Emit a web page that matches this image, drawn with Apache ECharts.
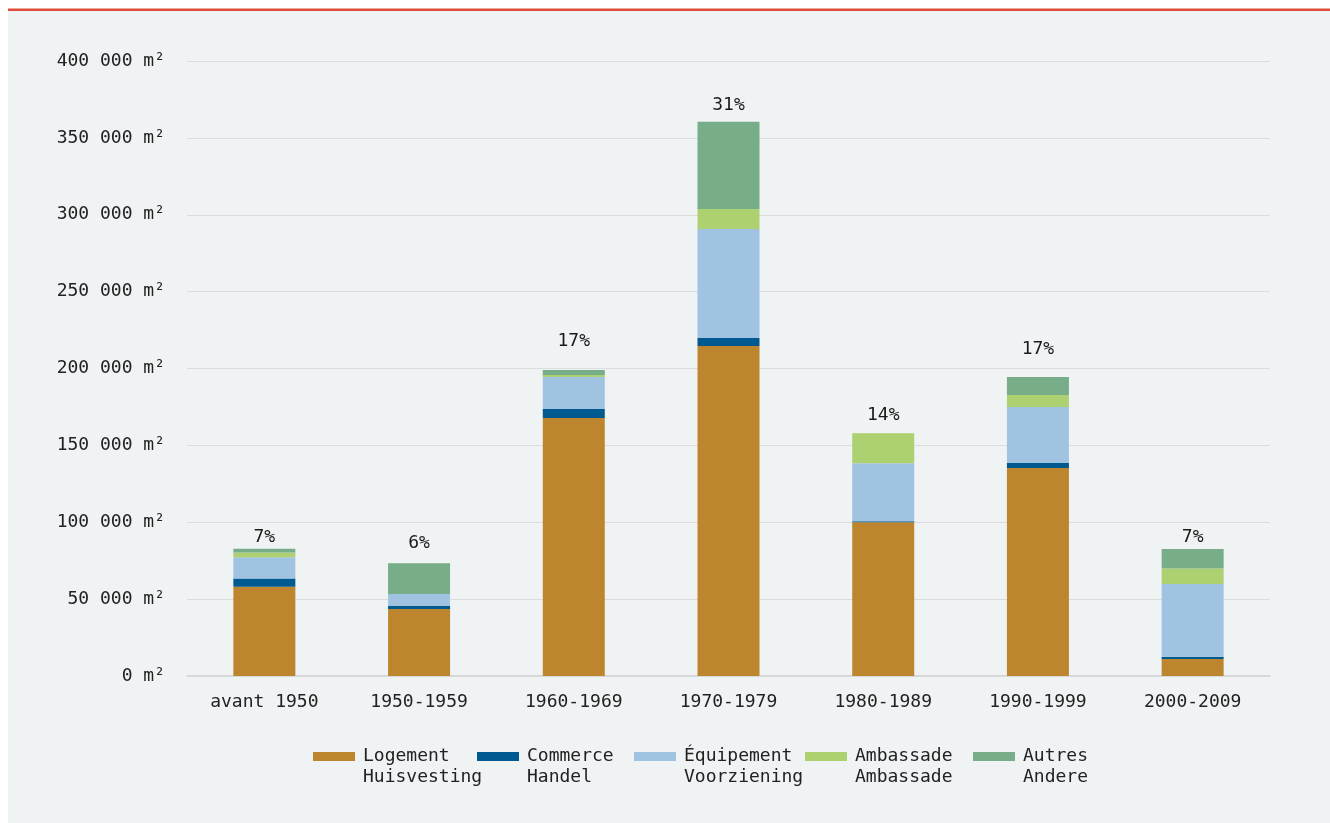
<!DOCTYPE html>
<html>
<head>
<meta charset="utf-8">
<script src="https://cdn.jsdelivr.net/npm/echarts@6/dist/echarts.min.js"></script>
<style>
html,body{margin:0;padding:0;background:#ffffff;}
#chart{width:1330px;height:823px;}
</style>
</head>
<body>
<div id="chart"></div>
<script>
var categories = ['avant 1950','1950-1959','1960-1969','1970-1979','1980-1989','1990-1999','2000-2009'];
var logement   = [58000, 43600, 167800, 214600, 100000, 135300, 11000];
var commerce   = [5400, 2000, 5900, 5200, 700, 3300, 1500];
var equipement = [13900, 7800, 20800, 70900, 37700, 36400, 47300];
var ambassade  = [3000, 0, 1300, 13000, 19500, 7800, 10200];
var autres     = [2400, 20000, 3300, 56800, 0, 11700, 12600];
var pctLabels  = ['7%','6%','17%','31%','14%','17%','7%'];
var seriesNames = ['Logement\nHuisvesting','Commerce\nHandel','Équipement\nVoorziening','Ambassade\nAmbassade','Autres\nAndere'];
var yTicks = [0, 50000, 100000, 150000, 200000, 250000, 300000, 350000, 400000];

// style: gap between bar top and its percentage label (px)
var labelGaps = [3, 11, 20, 7, 9, 19, 3];
var colors = ['#bd852d','#005a8f','#a0c3e2','#add170','#78ad89'];
var FONT = '"DejaVu Sans Mono", monospace';
var seriesData = [logement, commerce, equipement, ambassade, autres];
var totals = categories.map(function(c, i){
  return seriesData.reduce(function(s, arr){ return s + arr[i]; }, 0);
});

function fmt(v){
  return String(v).replace(/\B(?=(\d{3})+(?!\d))/g, ' ') + ' m²';
}

var chart = echarts.init(document.getElementById('chart'), null, {renderer:'canvas'});

var series = seriesNames.map(function(n, k){
  return {
    name: n, type: 'bar', stack: 'total', barWidth: 62,
    itemStyle: {color: colors[k]},
    data: seriesData[k]
  };
});
series.push({
  name: 'pct', type: 'scatter', symbolSize: 0,
  itemStyle: {color: '#222', opacity: 1},
  label: {
    show: true, position: 'top', opacity: 1,
    fontFamily: FONT, fontSize: 18, color: '#1a1a1a',
    formatter: function(p){ return pctLabels[p.dataIndex]; }
  },
  emphasis: {disabled: true},
  data: totals.map(function(t, i){ return {value: t, label: {distance: labelGaps[i]}}; }),
  z: 5
});

var legendLefts = [313, 477, 634, 805, 973];
var legends = seriesNames.map(function(n, k){
  return {
    data: [n], left: legendLefts[k], top: 725, padding: 0,
    itemWidth: 42, itemHeight: 9, icon: 'rect', selectedMode: false,
    formatter: function(name){ return ' \n' + name; },
    textStyle: {fontFamily: FONT, fontSize: 18, color: '#222', lineHeight: 21, padding: [0, 0, 0, 3]}
  };
});

chart.setOption({
  backgroundColor: 'transparent',
  animation: false,
  color: colors,
  graphic: [
    {type: 'rect', left: 8, top: 9, shape: {width: 1322, height: 814}, style: {fill: '#eff3f4'}, z: -10, silent: true},
    {type: 'rect', left: 8, top: 8.5, shape: {width: 1322, height: 2.5}, style: {fill: '#e04a3b'}, z: -9, silent: true}
  ],
  grid: {left: 187, right: 60, top: 61, bottom: 147},
  legend: legends,
  xAxis: {
    type: 'category', data: categories,
    axisLine: {lineStyle: {color: '#d8d8d8', width: 2}},
    axisTick: {show: false},
    axisLabel: {fontFamily: FONT, fontSize: 18, color: '#222', margin: 17}
  },
  yAxis: {
    type: 'value', min: 0, max: 400000, interval: 50000,
    axisLine: {show: false}, axisTick: {show: false},
    splitLine: {lineStyle: {color: '#dcdcdc', width: 1}},
    axisLabel: {fontFamily: FONT, fontSize: 18, color: '#222', margin: 22,
      formatter: function(v){ return yTicks.indexOf(v) >= 0 ? fmt(v) : ''; }}
  },
  series: series
});
</script>
</body>
</html>
